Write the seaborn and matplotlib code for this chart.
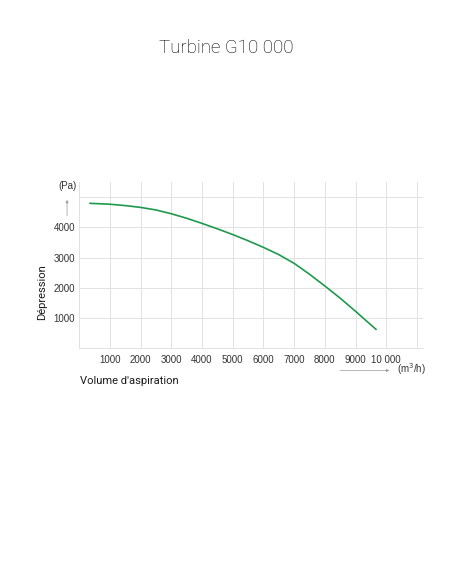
import matplotlib
matplotlib.use("Agg")
import matplotlib.pyplot as plt
import seaborn as sns
import pandas as pd

# curve (m3/h -> Pa)
debit = [350, 1000, 1500, 2000, 2500, 3000, 3500, 4000, 4500, 5000,
         5500, 6000, 6500, 7000, 7500, 8000, 8500, 9000, 9670]
depression = [4800, 4770, 4725, 4665, 4580, 4455, 4305, 4135, 3955, 3765,
              3560, 3340, 3100, 2810, 2450, 2060, 1655, 1220, 617]

x_ticks = [0, 1000, 2000, 3000, 4000, 5000, 6000, 7000, 8000, 9000, 10000, 11000]
x_labels = ["", "1000", "2000", "3000", "4000", "5000", "6000", "7000", "8000", "9000", "10 000", ""]
y_ticks = [0, 1000, 2000, 3000, 4000, 5000]
y_labels = ["", "1000", "2000", "3000", "4000", ""]

sns.set_style("white")
plt.rcParams['font.family'] = ['Liberation Sans', 'DejaVu Sans']

df = pd.DataFrame({"debit": debit, "depression": depression})

fig = plt.figure(figsize=(4.52, 5.84), dpi=100)
ax = fig.add_axes([0.175, 0.404, 0.761, 0.284])

sns.lineplot(data=df, x="debit", y="depression", ax=ax, color="#1e9a4c", linewidth=1.2)

ax.set_xlim(0, 11200)
ax.set_ylim(0, 5500)
ax.set_xticks(x_ticks)
ax.set_xticklabels(x_labels)
ax.set_yticks(y_ticks)
ax.set_yticklabels(y_labels)
ax.tick_params(axis="both", length=0, labelsize=7, colors="#333333")
ax.tick_params(axis="x", pad=5)
ax.tick_params(axis="y", pad=3)
ax.grid(True, color="#e2e2e2", linewidth=0.7)
ax.set_xlabel("")
ax.set_ylabel("")
for side in ["top", "right"]:
    ax.spines[side].set_visible(False)
for side in ["left", "bottom"]:
    ax.spines[side].set_color("#e2e2e2")
    ax.spines[side].set_linewidth(0.7)

# unit hints with small arrows
ax.text(-0.035, 0.975, "(Pa)", transform=ax.transAxes, ha="center", va="center",
        fontsize=7, color="#333333")
ax.annotate("", xy=(-0.035, 0.91), xytext=(-0.035, 0.78), xycoords="axes fraction",
            arrowprops=dict(arrowstyle="-|>", color="#999999", lw=0.5,
                            mutation_scale=4))
ax.annotate("", xy=(0.91, -0.135), xytext=(0.75, -0.135), xycoords="axes fraction",
            arrowprops=dict(arrowstyle="-|>", color="#999999", lw=0.5,
                            mutation_scale=4))
ax.text(0.925, -0.128, "(m$^3$/h)", transform=ax.transAxes, ha="left", va="center",
        fontsize=7, color="#333333")

fig.text(0.093, 0.5, "Dépression", rotation=90, ha="center", va="center",
         fontsize=8, color="#1a1a1a", family=["Roboto", "DejaVu Sans"])
fig.text(0.176, 0.348, "Volume d'aspiration", ha="left", va="center",
         fontsize=8, color="#1a1a1a", family=["Roboto", "DejaVu Sans"])
fig.text(0.5, 0.917, "Turbine G10 000", ha="center", va="center",
         fontsize=13.5, color="#000000", family=["Roboto", "DejaVu Sans"],
         fontweight="light")

fig.savefig("out.png", dpi=100)
